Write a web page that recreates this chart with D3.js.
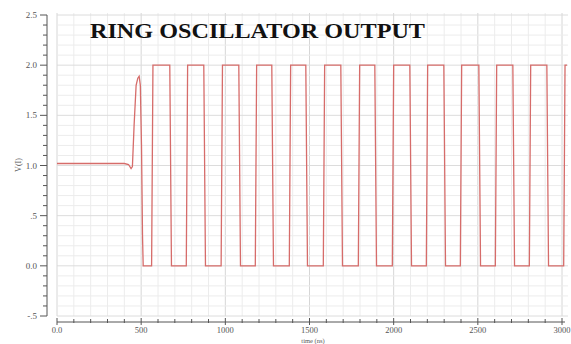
<!DOCTYPE html>
<html>
<head>
<meta charset="utf-8">
<script src="https://cdn.jsdelivr.net/npm/d3@7"></script>
<style>
  body { margin: 0; background: #fff; }
  svg { display: block; }
</style>
</head>
<body>
<script>
// waveform: time in ns, output in volts
const timeNs = [0, 400, 425, 440, 448, 458, 470, 480, 488, 495, 502, 508, 512,
  562, 570, 670, 680, 768, 776, 872, 882, 975, 983, 1080, 1090,
  1178, 1186, 1276, 1286, 1380, 1388, 1478, 1488, 1582, 1590, 1686, 1696,
  1790, 1798, 1888, 1898, 1992, 2000, 2096, 2106, 2194, 2202, 2298, 2308,
  2396, 2404, 2506, 2516, 2604, 2612, 2708, 2718, 2806, 2814, 2910, 2920,
  3010, 3018, 3030];
const volts = [1.02, 1.02, 1.01, 0.97, 0.99, 1.4, 1.8, 1.87, 1.89, 1.8, 1.2, 0.3, 0.0,
  0.0, 2.0, 2.0, 0.0, 0.0, 2.0, 2.0, 0.0, 0.0, 2.0, 2.0, 0.0,
  0.0, 2.0, 2.0, 0.0, 0.0, 2.0, 2.0, 0.0, 0.0, 2.0, 2.0, 0.0,
  0.0, 2.0, 2.0, 0.0, 0.0, 2.0, 2.0, 0.0, 0.0, 2.0, 2.0, 0.0,
  0.0, 2.0, 2.0, 0.0, 0.0, 2.0, 2.0, 0.0, 0.0, 2.0, 2.0, 0.0,
  0.0, 2.0, 2.0];

const yTicks = [-0.5, 0, 0.5, 1.0, 1.5, 2.0, 2.5];
const yTickLabels = ["-.5", "0.0", ".5", "1.0", "1.5", "2.0", "2.5"];
const xTicks = [0, 500, 1000, 1500, 2000, 2500, 3000];
const xTickLabels = ["0.0", "500", "1000", "1500", "2000", "2500", "3000"];

const W = 571, H = 344;
const svg = d3.select("body").append("svg").attr("width", W).attr("height", H);

// plot box
const plotL = 57, plotR = 568, plotT = 13, plotB = 316;
const x = d3.scaleLinear().domain([0, 3000]).range([57, 562]);
const y = d3.scaleLinear().domain([-0.5, 2.5]).range([316, 15]);

// grid, minor every 100 ns / 0.1 V
const gx = d3.range(0, 3100, 100);
const gy = d3.range(-5, 26).map(d => d / 10);
const grid = svg.append("g");
grid.selectAll("line.vx").data(gx).join("line")
  .attr("x1", d => x(d)).attr("x2", d => x(d))
  .attr("y1", plotT).attr("y2", plotB)
  .attr("stroke", d => d % 500 === 0 ? "#d6d6d6" : "#ececec").attr("stroke-width", 1);
grid.selectAll("line.hy").data(gy).join("line")
  .attr("x1", plotL).attr("x2", plotR)
  .attr("y1", d => y(d)).attr("y2", d => y(d))
  .attr("stroke", d => Math.round(d * 10) % 5 === 0 ? "#dcdcdc" : "#ececec").attr("stroke-width", 1);

// y axis by hand (ticks point left, minor ones shorter)
const ax = svg.append("g").attr("stroke", "#555").attr("stroke-width", 1);
ax.append("line").attr("x1", 47).attr("x2", 47).attr("y1", y(2.5)).attr("y2", y(-0.5));
ax.selectAll("line.ym").data(gy).join("line")
  .attr("x1", d => Math.round(d * 10) % 5 === 0 ? 40 : 43).attr("x2", 47)
  .attr("y1", d => y(d)).attr("y2", d => y(d));

// x axis
const xAxisY = 322;
ax.append("line").attr("x1", x(0)).attr("x2", 565).attr("y1", xAxisY).attr("y2", xAxisY);
ax.selectAll("line.xm").data(gx).join("line")
  .attr("x1", d => x(d)).attr("x2", d => x(d))
  .attr("y1", d => d % 500 === 0 ? 318 : 319).attr("y2", d => d % 500 === 0 ? 325 : 323);

const lbl = svg.append("g").attr("font-family", "Liberation Serif, serif")
  .attr("font-size", 9).attr("fill", "#555");
lbl.selectAll("text.y").data(yTicks).join("text")
  .attr("x", 37).attr("y", d => y(d) + 3).attr("text-anchor", "end")
  .text((d, i) => yTickLabels[i]);
lbl.selectAll("text.x").data(xTicks).join("text")
  .attr("x", d => x(d)).attr("y", 333).attr("text-anchor", "middle")
  .attr("font-size", 8.5)
  .text((d, i) => xTickLabels[i]);

lbl.append("text").attr("transform", "translate(21,165) rotate(-90)")
  .attr("text-anchor", "middle").attr("font-size", 8).text("V(I)");
lbl.append("text").attr("x", 313).attr("y", 342.5).attr("text-anchor", "middle")
  .attr("font-size", 6.5).text("time (ns)");

// waveform
svg.append("clipPath").attr("id", "clip").append("rect")
  .attr("x", plotL).attr("y", plotT).attr("width", plotR - plotL).attr("height", plotB - plotT);
const pts = timeNs.map((t, i) => [t, volts[i]]);
svg.append("path").datum(pts)
  .attr("clip-path", "url(#clip)")
  .attr("fill", "none").attr("stroke", "#d66c6a").attr("stroke-width", 1.3)
  .attr("d", d3.line().x(d => x(d[0])).y(d => y(d[1])));

// title
svg.append("text").attr("x", 90).attr("y", 38)
  .attr("font-family", "Liberation Serif, Times New Roman, serif")
  .attr("font-weight", "bold").attr("font-size", 22).attr("fill", "#111")
  .attr("textLength", 335).attr("lengthAdjust", "spacingAndGlyphs")
  .text("RING OSCILLATOR OUTPUT");
</script>
</body>
</html>
